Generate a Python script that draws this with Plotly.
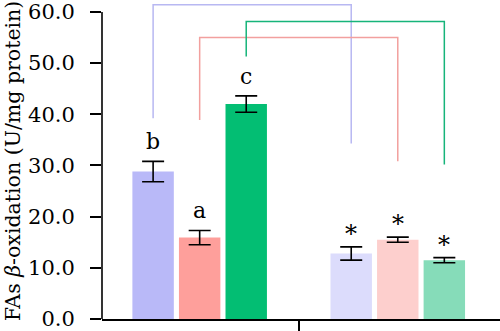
import plotly.graph_objects as go

# Two groups, three bars each (series share a hue family across groups)
groups = [0, 1]
series_names = ["Series A", "Series B", "Series C"]
means = [
    [28.8, 12.8],   # lavender
    [15.9, 15.5],   # salmon
    [42.0, 11.5],   # green
]
errors = [
    [2.0, 1.3],
    [1.4, 0.5],
    [1.6, 0.5],
]
bar_colors = [
    ["#b9b9f8", "#dcdcfc"],
    ["#fe9f9b", "#fdcfcd"],
    ["#03be73", "#86dcb9"],
]
labels = [
    ["b", "*"],
    ["a", "*"],
    ["c", "*"],
]

# Comparison brackets linking each bar of group 0 to its partner in group 1
bracket_colors = ["#b8b8f2", "#f2a09e", "#16b47a"]
bracket_top = [61.4, 55.0, 58.1]
bracket_left_end = [39.2, 38.9, 51.3]
bracket_right_end = [34.3, 30.8, 30.2]

y_ticks = [0, 10, 20, 30, 40, 50, 60]

FONT = "DejaVu Serif"
bargap = 0.295
bargroupgap = 0.11
n_series = len(series_names)
slot = (1 - bargap) / n_series

fig = go.Figure()
for i in range(n_series):
    fig.add_trace(go.Bar(
        x=groups,
        y=means[i],
        name=series_names[i],
        marker=dict(color=bar_colors[i], line=dict(width=0)),
        error_y=dict(type="data", array=errors[i], color="black",
                     thickness=1.6, width=11),
        showlegend=False,
    ))

# bar centre offsets inside a group follow from the gap settings
offsets = [(i - (n_series - 1) / 2) * slot for i in range(n_series)]

for i in range(n_series):
    xl = groups[0] + offsets[i]
    xr = groups[1] + offsets[i]
    fig.add_trace(go.Scatter(
        x=[xl, xl, xr, xr],
        y=[bracket_left_end[i], bracket_top[i], bracket_top[i], bracket_right_end[i]],
        mode="lines",
        line=dict(color=bracket_colors[i], width=1.5),
        hoverinfo="skip",
        showlegend=False,
    ))

annotations = []
for i in range(n_series):
    for g in groups:
        txt = labels[i][g]
        star = txt == "*"
        annotations.append(dict(
            x=g + offsets[i], y=means[i][g] + errors[i][g],
            xref="x", yref="y", text=txt, showarrow=False,
            xanchor="center", yanchor="bottom",
            yshift=5 if not star else -3,
            font=dict(family=FONT, size=22 if not star else 24, color="black"),
        ))

annotations.append(dict(
    x=-0.222, y=0.497, xref="paper", yref="paper",
    text="FAs <i>β</i>-oxidation (U/mg protein)",
    textangle=-90, showarrow=False, xanchor="center", yanchor="middle",
    font=dict(family=FONT, size=20.5, color="black"),
))

fig.update_layout(
    width=500, height=331,
    margin=dict(l=102, r=0, t=0, b=11),
    paper_bgcolor="white", plot_bgcolor="white",
    barmode="group", bargap=bargap, bargroupgap=bargroupgap,
    annotations=annotations,
    shapes=[dict(type="line", xref="paper", yref="y", x0=0, x1=0, y0=0, y1=60,
                 line=dict(color="black", width=1.6), layer="above")],
    font=dict(family=FONT, color="black"),
)
fig.update_yaxes(
    range=[0, 61.93], tickvals=y_ticks,
    ticktext=[f"{v:.1f}" for v in y_ticks],
    ticks="outside", ticklen=11, tickwidth=1.6, tickcolor="black",
    ticklabelstandoff=11, ticklabeloverflow="allow",
    tickfont=dict(family=FONT, size=21, color="black"),
    showgrid=False, zeroline=False, showline=False,
)
fig.update_xaxes(
    range=[-0.493, 1.516], tickvals=[0.5], showticklabels=False,
    ticks="outside", ticklen=11, tickwidth=1.6, tickcolor="black",
    showline=True, linecolor="black", linewidth=1.6,
    showgrid=False, zeroline=False,
)

fig.write_html("out.html")
